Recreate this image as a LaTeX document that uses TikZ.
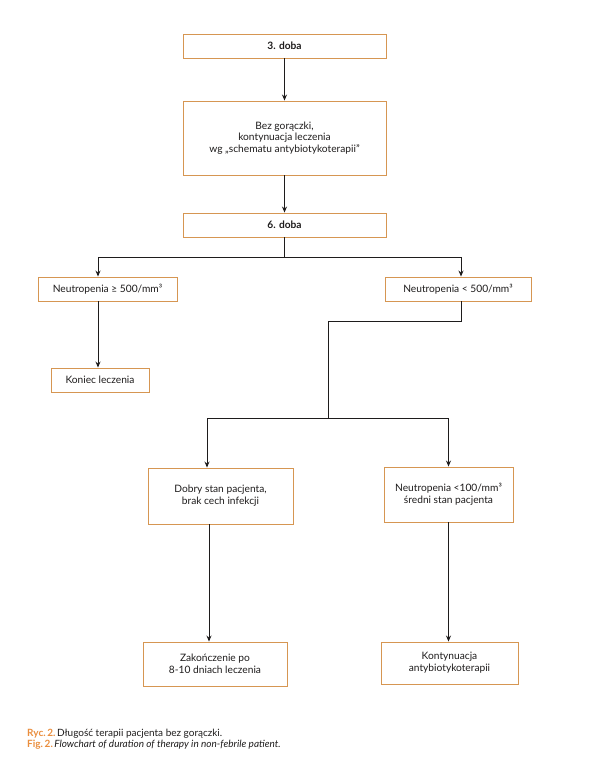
\documentclass[tikz,border=0pt]{standalone}
\usepackage{fontspec}
\setmainfont{Lato}
\usetikzlibrary{arrows.meta,positioning,calc}
\definecolor{boxor}{RGB}{214,150,82}
\definecolor{capor}{RGB}{234,142,62}
\definecolor{ink}{RGB}{30,28,28}
\tikzset{
  fbox/.style={draw=boxor, line width=0.9pt, fill=white, align=center, inner sep=0pt,
    font=\fontsize{10.2}{11.8}\selectfont, text=ink},
  conn/.style={draw=ink, line width=1pt, -{Stealth[length=6pt,width=5pt]}},
  plain/.style={draw=ink, line width=1pt},
}
\begin{document}
\begin{tikzpicture}[x=1pt,y=-1pt]
\useasboundingbox (0,0) rectangle (598,765);
\node[fbox, minimum width=203pt, minimum height=24pt] (d3) at (284.5,46) {\textbf{3. doba}};
\node[fbox, minimum width=203pt, minimum height=74pt] (bez) at (284.5,138) {Bez gorączki,\\kontynuacja leczenia\\wg „schematu antybiotykoterapii”};
\node[fbox, minimum width=203pt, minimum height=24pt] (d6) at (284.5,225) {\textbf{6. doba}};
\node[fbox, minimum width=139pt, minimum height=24pt] (nge) at (107.5,289) {Neutropenia ≥ 500/mm³};
\node[fbox, minimum width=146pt, minimum height=24pt] (nlt) at (458,289) {Neutropenia < 500/mm³};
\node[fbox, minimum width=98pt, minimum height=24pt] (kon) at (100,380) {Koniec leczenia};
\node[fbox, minimum width=145pt, minimum height=56pt] (dob) at (220.5,496) {Dobry stan pacjenta,\\brak cech infekcji};
\node[fbox, minimum width=129pt, minimum height=55pt] (n100) at (448.5,494.5) {Neutropenia <100/mm³\\średni stan pacjenta};
\node[fbox, minimum width=144pt, minimum height=44pt] (zak) at (215,664) {Zakończenie po\\8-10 dniach leczenia};
\node[fbox, minimum width=137pt, minimum height=42pt] (kont) at (449.5,663) {Kontynuacja\\antybiotykoterapii};

\coordinate (s1) at (284.5,257);
\coordinate (s2a) at (461,321);
\coordinate (s2b) at (328,321);
\coordinate (s3) at (328,418);

\draw[conn] (d3) -- (bez);
\draw[conn] (bez) -- (d6);
\draw[plain] (d6.south) -- (s1);
\draw[conn] (s1) -| ([xshift=-9.5pt]nge.north);
\draw[conn] (s1) -| ([xshift=3pt]nlt.north);
\draw[conn] ([xshift=-9.5pt]nge.south) -- ([xshift=-2pt]kon.north);
\draw[plain] ([xshift=3pt]nlt.south) -- (s2a) -- (s2b) -- (s3);
\draw[conn] (s3) -| ([xshift=-13.5pt]dob.north);
\draw[conn] (s3) -| (n100.north);
\draw[conn] ([xshift=-11.5pt]dob.south) -- ([xshift=-6pt]zak.north);
\draw[conn] (n100.south) -- (kont.north -| n100.south);

\node[anchor=west, inner sep=0pt, text=ink, font=\fontsize{10}{11}\selectfont, align=left] (cap) at (27,739.5)
  {{\color{capor}\fontseries{sb}\selectfont Ryc.\,2.}\hspace{1.5pt}Długość terapii pacjenta bez gorączki.\\
   {\color{capor}\fontseries{sb}\selectfont Fig.\,2.}\hspace{1.5pt}\textit{Flowchart of duration of therapy in non-febrile patient.}};
\end{tikzpicture}
\end{document}
